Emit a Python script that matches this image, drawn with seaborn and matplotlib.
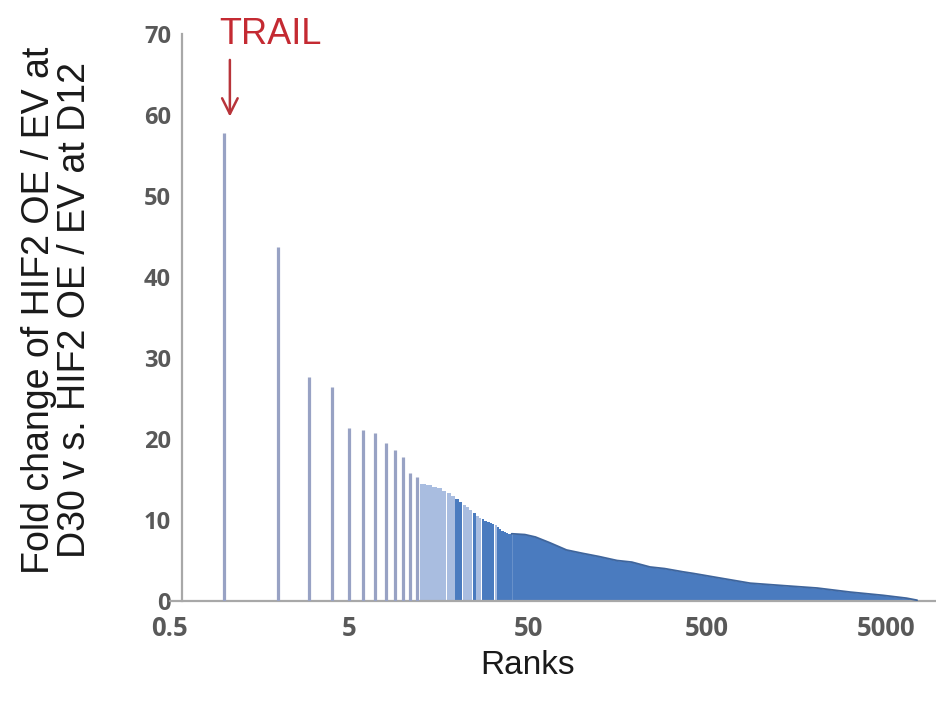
import matplotlib
matplotlib.use("Agg")
import matplotlib.pyplot as plt
import seaborn as sns
import numpy as np
import pandas as pd

# ---- data ----
top_ranks = [1, 2, 3, 4, 5, 6, 7, 8, 9, 10, 11, 12]
top_values = [57.8, 43.7, 27.7, 26.4, 21.4, 21.1, 20.7, 19.5, 18.6, 17.8, 15.8, 15.3]

mid_ranks = list(range(13, 41))
mid_values = [14.5, 14.3, 14.1, 13.9, 13.6, 13.3, 13.0, 12.6, 12.2, 11.9,
              11.6, 11.2, 10.9, 10.5, 10.3, 10.1, 9.9, 9.8, 9.6, 9.5,
              9.4, 9.1, 8.9, 8.7, 8.5, 8.4, 8.3, 8.3]

tail_ranks = [40.5, 48, 55, 66, 82, 100, 124, 157, 190, 240, 290, 367, 420,
              568, 870, 1330, 2060, 3150, 4810, 6500, 7450]
tail_values = [8.3, 8.2, 7.9, 7.2, 6.3, 5.9, 5.5, 5.0, 4.8, 4.2, 4.0, 3.6, 3.4,
               2.9, 2.2, 1.9, 1.6, 1.1, 0.7, 0.35, 0.1]

x_ticks = [0.5, 5, 50, 500, 5000]
x_tick_labels = ["0.5", "5", "50", "500", "5000"]
y_ticks = [0, 10, 20, 30, 40, 50, 60, 70]

highlight_label = "TRAIL"
highlight_rank = 1
x_title = "Ranks"
y_title = "Fold change of HIF2 OE / EV at\nD30 v s. HIF2 OE / EV at D12"

# ---- styling ----
sns.set_theme(style="white")
plt.rcParams["font.family"] = ["Liberation Sans", "DejaVu Sans"]

fig = plt.figure(figsize=(9.37, 7.04), dpi=100)
ax = fig.add_axes([170 / 937, 1 - 601 / 704, 766 / 937, 567 / 704])
ax.set_xscale("log")

line_color = "#98a2c4"
light_blue = "#a9bde0"
mid_blue = "#4a7bbf"
# rendering shade of the dense bars (Excel anti-aliasing look)
mid_shade = (["light"] * 7 + ["dark"] * 2 + ["light"] * 3 + ["dark"] +
             ["light"] * 2 + ["dark"] * 5 + ["light"] + ["dark"] * 7)
mid_colors = [light_blue if s == "light" else mid_blue for s in mid_shade]

# thin bars for the top ranks
ax.vlines(top_ranks, 0, top_values, color=line_color, lw=2.3, zorder=3)

# dense bars
ax.bar(mid_ranks, mid_values, width=0.94, color=mid_colors, linewidth=0, zorder=2)

# tail rendered as filled bars region
tail_df = pd.DataFrame({"rank": tail_ranks, "value": tail_values})
ax.fill_between(tail_df["rank"], 0, tail_df["value"], color=mid_blue, lw=0, zorder=2)
sns.lineplot(data=tail_df, x="rank", y="value", ax=ax, color="#3f659c", lw=1.3,
             zorder=3, legend=False)

# axes
ax.set_xlim(0.5, 9500)
ax.set_ylim(0, 70)
ax.set_xticks(x_ticks)
ax.set_xticklabels(x_tick_labels)
ax.xaxis.set_minor_locator(matplotlib.ticker.NullLocator())
ax.set_yticks(y_ticks)
ax.set_yticklabels([str(v) for v in y_ticks])

for s in ["top", "right"]:
    ax.spines[s].set_visible(False)
ax.spines["left"].set_position(("axes", 12 / 766))
ax.spines["left"].set_color("#a8a8a8")
ax.spines["left"].set_linewidth(1.6)
ax.spines["bottom"].set_color("#a8a8a8")
ax.spines["bottom"].set_linewidth(1.6)
ax.spines["left"].set_zorder(1)

tick_font = dict(family=["Open Sans", "DejaVu Sans"], weight="bold", size=17)
ax.tick_params(axis="both", length=0, colors="#595959")
ax.tick_params(axis="y", pad=8)
ax.tick_params(axis="x", pad=10)
for lab in ax.get_xticklabels():
    lab.set_fontproperties(matplotlib.font_manager.FontProperties(**tick_font))
    lab.set_size(18.5)
for lab in ax.get_yticklabels():
    lab.set_fontproperties(matplotlib.font_manager.FontProperties(**tick_font))

ax.set_xlabel(x_title, fontsize=24, color="#1a1a1a", va="center")
ax.xaxis.set_label_coords((528 - 170) / 766, (601 - 665) / 567)
ax.set_ylabel(y_title, fontsize=27, color="#1a1a1a", va="center", ha="center",
              linespacing=1.0, multialignment="center")
ax.yaxis.set_label_coords((57 - 170) / 766, (601 - 310) / 567)

# annotation
ax.annotate("", xy=(highlight_rank * 1.08, top_values[0] + 2.0),
            xytext=(highlight_rank * 1.08, top_values[0] + 9.0),
            arrowprops=dict(arrowstyle="->", color="#b8343a", lw=1.8,
                            mutation_scale=28, shrinkA=0, shrinkB=0),
            annotation_clip=False)
ax.text(highlight_rank * 1.81, 69.9, highlight_label, color="#c42a32", fontsize=26,
        ha="center", va="center", clip_on=False)

fig.savefig("out.png", dpi=100, facecolor="white")
